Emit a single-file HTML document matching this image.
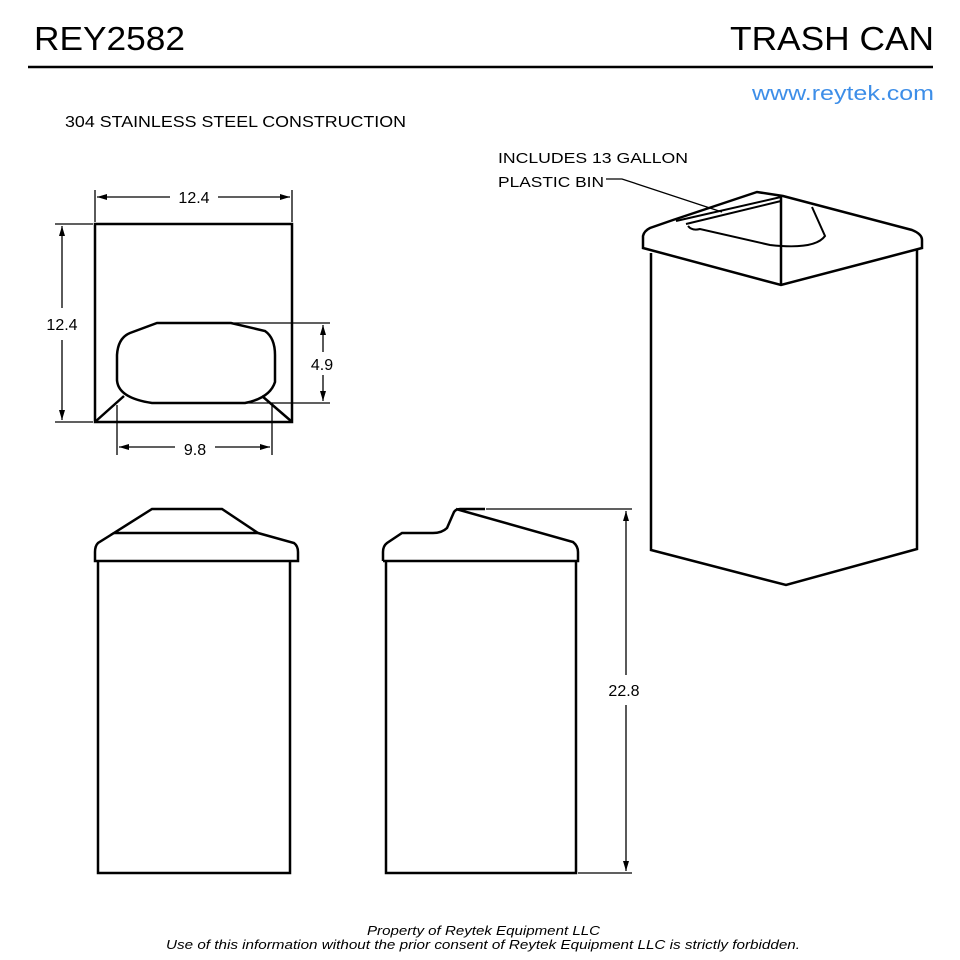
<!DOCTYPE html>
<html><head><style>body{margin:0;background:#fff}svg{display:block}text{font-family:"Liberation Sans",sans-serif}</style></head><body>
<svg width="960" height="960" viewBox="0 0 960 960" xmlns="http://www.w3.org/2000/svg">
<defs><marker id="a" viewBox="0 0 10 6" refX="10" refY="3" markerWidth="10" markerHeight="6" orient="auto-start-reverse" markerUnits="userSpaceOnUse"><path d="M0,0L10,3L0,6z" fill="#000"/></marker></defs>
<text x="34" y="50" font-size="33" textLength="151" lengthAdjust="spacingAndGlyphs">REY2582</text>
<text x="730" y="50" font-size="33" textLength="204" lengthAdjust="spacingAndGlyphs">TRASH CAN</text>
<line x1="28" y1="67" x2="933" y2="67" stroke="#000" stroke-width="2.5"/>
<text x="752" y="100" font-size="20" fill="#3d8ee8" textLength="182" lengthAdjust="spacingAndGlyphs">www.reytek.com</text>
<text x="65" y="127" font-size="16" textLength="341" lengthAdjust="spacingAndGlyphs">304 STAINLESS STEEL CONSTRUCTION</text>
<g fill="none" stroke="#000" stroke-width="2.5">
<rect x="95" y="224" width="197" height="198"/>
<path d="M157,323 H231 L265,331 Q275,338 275,355 V382 Q270,398 245,403 H152 Q118,398 117,380 V355 Q118,338 130,333 Z"/>
<path d="M96,421 L124,396 M291,421 L262,396"/>
<path d="M152,509 H222 L258,533 H114 Z"/>
<path d="M114,533 L98,543 Q95,546 95,552 V561 H298 V552 Q298,546 294,543 L258,533"/>
<path d="M98,561 V873 H290 V561"/>
<path d="M383,561 V552 Q383,546 387,543 L402,533 H433 Q442,533 447,528 L454,512 Q456,509 460,509 H485 M456,509 L573,542 Q578,546 578,552 V561 H383"/>
<path d="M386,561 V873 H576 V561"/>
<!-- iso lid -->
<path d="M643,248 V236 Q644,231 650,228 L673,220 L757,192 L783,196 L912,230 Q922,234 922,240 V248 L781,285 L643,248 Z"/>
<path d="M781,197 V285"/>
<path d="M651,253 V550 L786,585 L917,549 V250"/>
<path d="M676,221 L781,197 M686,224 L781,201" stroke-width="2"/>
<path d="M688,226 Q692,231 700,229 L770,245 Q815,250 825,236 L812,207" stroke-width="2"/>
</g>
<g stroke="#000" stroke-width="1.3" fill="none">
<line x1="95" y1="190" x2="95" y2="222"/><line x1="292" y1="190" x2="292" y2="222"/>
<line x1="97" y1="197" x2="170" y2="197" marker-start="url(#a)"/><line x1="218" y1="197" x2="290" y2="197" marker-end="url(#a)"/>
<line x1="55" y1="224" x2="93" y2="224"/><line x1="55" y1="422" x2="93" y2="422"/>
<line x1="62" y1="226" x2="62" y2="308" marker-start="url(#a)"/><line x1="62" y1="340" x2="62" y2="420" marker-end="url(#a)"/>
<line x1="234" y1="323" x2="330" y2="323"/><line x1="245" y1="403" x2="330" y2="403"/>
<line x1="323" y1="325" x2="323" y2="352" marker-start="url(#a)"/><line x1="323" y1="375" x2="323" y2="401" marker-end="url(#a)"/>
<line x1="117" y1="405" x2="117" y2="455"/><line x1="272" y1="405" x2="272" y2="455"/>
<line x1="119" y1="447" x2="175" y2="447" marker-start="url(#a)"/><line x1="215" y1="447" x2="270" y2="447" marker-end="url(#a)"/>
<line x1="486" y1="509" x2="632" y2="509"/><line x1="578" y1="873" x2="632" y2="873"/>
<line x1="626" y1="511" x2="626" y2="675" marker-start="url(#a)"/><line x1="626" y1="705" x2="626" y2="871" marker-end="url(#a)"/>
<path d="M606,179 H622 L722,212"/>
</g>
<g font-size="16">
<text x="194" y="203" text-anchor="middle">12.4</text>
<text x="62" y="330" text-anchor="middle">12.4</text>
<text x="322" y="370" text-anchor="middle">4.9</text>
<text x="195" y="455" text-anchor="middle">9.8</text>
<text x="624" y="696" text-anchor="middle">22.8</text>
<text x="498" y="163" font-size="15" textLength="190" lengthAdjust="spacingAndGlyphs">INCLUDES 13 GALLON</text>
<text x="498" y="187" font-size="15" textLength="106" lengthAdjust="spacingAndGlyphs">PLASTIC BIN</text>
</g>
<g font-size="12.5" font-style="italic">
<text x="367" y="935" textLength="233" lengthAdjust="spacingAndGlyphs">Property of Reytek Equipment LLC</text>
<text x="166" y="949" textLength="634" lengthAdjust="spacingAndGlyphs">Use of this information without the prior consent of Reytek Equipment LLC is strictly forbidden.</text>
</g>
</svg>
</body></html>
